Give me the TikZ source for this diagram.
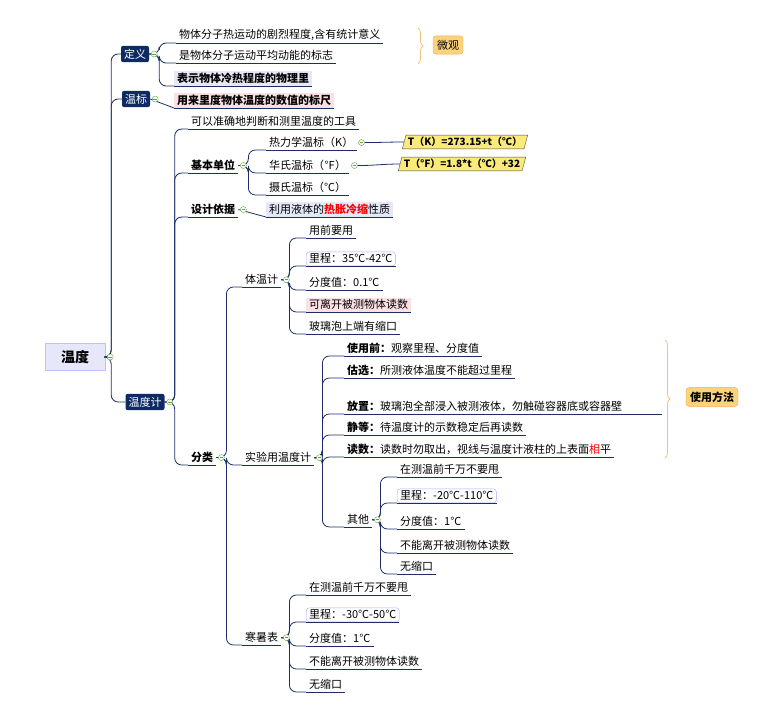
\documentclass[tikz,border=0pt]{standalone}
\usepackage{fontspec}
\setmainfont{Noto Sans CJK SC}
\usetikzlibrary{arrows.meta, positioning, shapes.geometric, decorations.pathreplacing}
\definecolor{mmnavy}{HTML}{0D2A63}
\definecolor{mmline}{HTML}{1B2F66}
\definecolor{mmlav}{HTML}{E6E8FA}
\definecolor{mmpink}{HTML}{FCE0E4}
\definecolor{mmyellow}{HTML}{FAEB78}
\definecolor{mmorange}{HTML}{FCD27A}
\definecolor{mmbrace}{HTML}{F2C27A}
\definecolor{mmgreen}{HTML}{5FA83A}

\begin{document}
\begin{tikzpicture}[x=1pt, y=-1pt,
  every node/.style={font=\fontsize{11}{13.5}\selectfont},
  conn/.style={draw=mmline, thick, rounded corners=7pt},
  topic/.style={rectangle, rounded corners=2pt, fill=mmnavy, text=white, inner sep=3pt},
  leaf/.style={anchor=south west, inner xsep=3pt, inner ysep=2pt,
    append after command={(\tikzlastnode.south west) edge[draw=mmline, thick] (\tikzlastnode.south east)}},
  rangebox/.style={leaf, draw=blue!35, rounded corners=3pt},
  note/.style={trapezium, trapezium left angle=75, trapezium right angle=105, draw=black!70,
    fill=mmyellow, font=\fontsize{10}{12}\selectfont\bfseries, inner sep=2pt},
  tagbox/.style={rectangle, rounded corners=3pt, draw=orange!70, fill=mmorange, inner sep=4pt},
  brc/.style={draw=mmbrace, thick, decorate, decoration={brace, amplitude=5pt}},
  fold/.style={circle, draw=mmgreen, fill=white, inner sep=0pt, minimum size=6pt,
    path picture={\draw[mmgreen, thick] ([xshift=-1.8pt]path picture bounding box.center) -- ([xshift=1.8pt]path picture bounding box.center);}},
]
\useasboundingbox (0,0) rectangle (760,709);

% root
\node[rectangle, fill=mmlav, draw=blue!25, minimum width=60, minimum height=27,
  font=\fontsize{14}{16}\selectfont\bfseries] (root) at (75,357) {温度};

% main topics
\node[topic] (def) at (135,54) {定义};
\node[topic] (scale) at (136,99) {温标};
\node[topic] (thermo) at (145,402) {温度计};
\foreach \t in {def, scale, thermo}
  \draw[conn] (root.east) -- ++(6,0) |- (\t.west);

% definition
\node[leaf] (d1) at (176,43) {物体分子热运动的剧烈程度,含有统计意义};
\node[leaf] (d2) at (176,63) {是物体分子运动平均动能的标志};
\node[leaf, fill=mmlav, font=\fontsize{11}{13.5}\selectfont\bfseries] (d3) at (174,86) {表示物体冷热程度的物理里};
\foreach \c in {d1, d2, d3}
  \draw[conn] (def.east) -- ++(10,0) |- (\c.south west);
\draw[brc] (418,28) -- (418,64);
\node[tagbox] (micro) at (448,45) {微观};

% scale
\node[leaf, fill=mmpink, font=\fontsize{11}{13.5}\selectfont\bfseries] (w1) at (174,108) {用来里度物体温度的数值的标尺};
\draw[conn] (scale.east) -- (w1.south west);

% thermometer
\node[leaf] (t1) at (188,129) {可以准确地判断和测里温度的工具};
\node[leaf, font=\fontsize{11}{13.5}\selectfont\bfseries] (unit) at (188,173) {基本单位};
\node[leaf, font=\fontsize{11}{13.5}\selectfont\bfseries] (basis) at (188,217) {设计依据};
\node[leaf, font=\fontsize{11}{13.5}\selectfont\bfseries] (kind) at (188,465) {分类};
\foreach \c in {t1, unit, basis, kind}
  \draw[conn] (thermo.east) -- ++(10,0) |- (\c.south west);

% basic units
\node[leaf] (u1) at (266,150) {热力学温标（K）};
\node[leaf] (u2) at (266,173) {华氏温标（℉）};
\node[leaf] (u3) at (266,195) {摄氏温标（℃）};
\foreach \c in {u1, u2, u3}
  \draw[conn] (unit.east) -- ++(10,0) |- (\c.south west);
\node[note] (n1) at (465,142) {T（K）=273.15+t（℃）};
\node[note] (n2) at (462,164) {T（℉）=1.8*t（℃）+32};
\draw[conn] (u1.east) ++(8,0) to[out=0, in=180] (n1.west);
\draw[conn] (u2.east) ++(8,0) to[out=0, in=180] (n2.west);

% design basis
\node[leaf, fill=mmlav] (b1) at (266,217) {利用液体的{\color{red}\bfseries 热胀冷缩}性质};
\draw[conn] (basis.east) -- (b1.south west);

% classification
\node[leaf] (k1) at (242,287) {体温计};
\node[leaf] (k2) at (242,465) {实验用温度计};
\node[leaf] (k3) at (242,645) {寒暑表};
\foreach \c in {k1, k2, k3}
  \draw[conn] (kind.east) -- ++(10,0) |- (\c.south west);

% clinical thermometer
\node[leaf] (c1) at (306,238) {用前要用};
\node[rangebox] (c2) at (306,266) {里程：35℃-42℃};
\node[leaf] (c3) at (306,290) {分度值：0.1℃};
\node[leaf, fill=mmpink] (c4) at (306,312) {可离开被测物体读数};
\node[leaf] (c5) at (306,334) {玻璃泡上端有缩口};
\foreach \c in {c1, c2, c3, c4, c5}
  \draw[conn] (k1.east) -- ++(8,0) |- (\c.south west);

% lab thermometer
\node[leaf] (l1) at (344,356) {\textbf{使用前：}观察里程、分度值};
\node[leaf] (l2) at (344,378) {\textbf{估选：}所测液体温度不能超过里程};
\node[leaf, text width=312, align=left] (l3) at (344,414) {\textbf{放置：}玻璃泡全部浸入被测液体，勿触碰容器底或容器壁};
\node[leaf] (l4) at (344,435) {\textbf{静等：}待温度计的示数稳定后再读数};
\node[leaf] (l5) at (344,457) {\textbf{读数：}读数时勿取出，视线与温度计液柱的上表面{\color{red}相}平};
\node[leaf] (l6) at (344,527) {其他};
\foreach \c in {l1, l2, l3, l4, l5, l6}
  \draw[conn] (k2.east) -- ++(8,0) |- (\c.south west);
\draw[brc] (665,340) -- (665,458);
\node[tagbox, font=\fontsize{11}{13.5}\selectfont\bfseries] (usage) at (712,397) {使用方法};

% others
\node[leaf] (o1) at (397,477) {在测温前千万不要甩};
\node[rangebox] (o2) at (397,503) {里程：-20℃-110℃};
\node[leaf] (o3) at (397,529) {分度值：1℃};
\node[leaf] (o4) at (397,553) {不能离开被测物体读数};
\node[leaf] (o5) at (397,574) {无缩口};
\foreach \c in {o1, o2, o3, o4, o5}
  \draw[conn] (l6.east) -- ++(8,0) |- (\c.south west);

% wall thermometer
\node[leaf] (h1) at (306,595) {在测温前千万不要甩};
\node[rangebox] (h2) at (306,622) {里程：-30℃-50℃};
\node[leaf] (h3) at (306,646) {分度值：1℃};
\node[leaf] (h4) at (306,669) {不能离开被测物体读数};
\node[leaf] (h5) at (306,692) {无缩口};
\foreach \c in {h1, h2, h3, h4, h5}
  \draw[conn] (k3.east) -- ++(8,0) |- (\c.south west);

% fold markers
\foreach \p in {root, def, scale, thermo, unit, u1, u2, basis, kind, k1, k2, k3, l6}
  \node[fold] at ([xshift=5pt]\p.east) {};
\end{tikzpicture}
\end{document}
